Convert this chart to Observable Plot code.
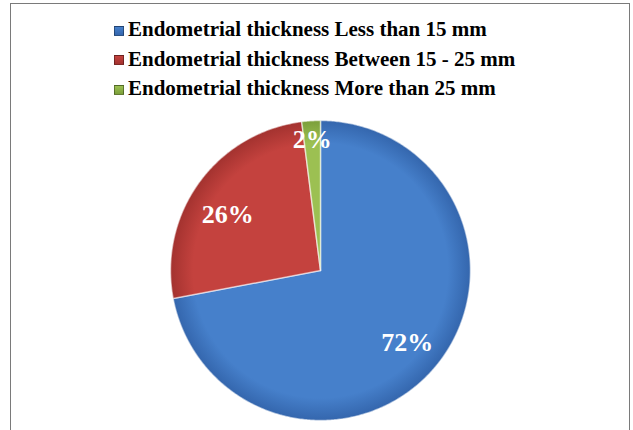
<!DOCTYPE html>
<html>
<head>
<meta charset="utf-8">
<script src="https://cdn.jsdelivr.net/npm/d3@7"></script>
<script src="https://cdn.jsdelivr.net/npm/@observablehq/plot@0.6"></script>
<style>
  html, body { margin: 0; padding: 0; background: #fff; overflow: hidden; }
  #frame { position: absolute; left: 10px; top: 3px; width: 620px; height: 460px; border: 1.5px solid #7a7a7a; box-sizing: border-box; }
  #legend { position: absolute; left: 114px; top: 15px; font-family: "Liberation Serif", "Times New Roman", serif; font-weight: bold; font-size: 21px; color: #000; }
  .row { height: 29.5px; display: flex; align-items: center; white-space: nowrap; }
  .sw { width: 10px; height: 10px; margin-right: 4px; margin-top: 2px; border: 0.5px solid rgba(0,0,0,0.35); box-sizing: border-box; }
  #chart { position: absolute; left: 0; top: 110px; }
</style>
</head>
<body>
<div id="frame"></div>
<div id="legend"></div>
<div id="chart"></div>
<script>
const categories = [
  "Endometrial thickness Less than 15 mm",
  "Endometrial thickness Between 15 - 25 mm",
  "Endometrial thickness More than 25 mm"
];
const values = [72, 26, 2];
const labels = ["72%", "26%", "2%"];
const colors = ["#4680cb", "#c4423e", "#9cc052"];
const darker = ["#3466ad", "#a3322f", "#7b9f3a"];

// legend
const legend = document.getElementById("legend");
categories.forEach((c, i) => {
  const row = document.createElement("div");
  row.className = "row";
  const sw = document.createElement("span");
  sw.className = "sw";
  sw.style.background = `linear-gradient(180deg, ${colors[i]}, ${darker[i]})`;
  row.appendChild(sw);
  row.appendChild(document.createTextNode(c));
  legend.appendChild(row);
});

// pie geometry via d3.pie (clockwise from 12 o'clock)
const pie = d3.pie().sort(null).value(d => d)(values);
const slices = pie.map((p, i) => {
  const pts = [{x: 0, y: 0, i}];
  const n = Math.max(4, Math.ceil((p.endAngle - p.startAngle) / 0.01));
  for (let k = 0; k <= n; k++) {
    const a = p.startAngle + (p.endAngle - p.startAngle) * k / n;
    pts.push({x: Math.sin(a), y: Math.cos(a), i});
  }
  pts.push({x: 0, y: 0, i});
  return pts;
});
const labelData = pie.map((p, i) => {
  const a = (p.startAngle + p.endAngle) / 2 - (values[i] > 20 && values[i] < 50 ? 0.09 : 0);
  const r = values[i] < 5 ? 0.875 : (values[i] > 50 ? 0.75 : 0.72);
  return {x: r * Math.sin(a), y: r * Math.cos(a), label: labels[i]};
});

const marks = slices.map((pts, i) =>
  Plot.line(pts, {x: "x", y: "y", fill: `url(#grad${i})`, stroke: "rgba(255,255,255,0.55)", strokeWidth: 1.5, curve: "linear-closed"})
);
marks.push(Plot.text(labelData, {
  x: "x", y: "y", text: "label", fill: "white", fontSize: 26, fontWeight: "bold",
  fontFamily: "'Liberation Serif', 'Times New Roman', serif"
}));

const plot = Plot.plot({
  width: 633,
  height: 320,
  margin: 0,
  x: {domain: [-1, 1], range: [170, 470], axis: null},
  y: {domain: [-1, 1], range: [310, 10], axis: null},
  marks
});
const svg = d3.select(plot);
const defs = svg.insert("defs", ":first-child");
colors.forEach((c, i) => {
  const g = defs.append("radialGradient").attr("id", `grad${i}`)
    .attr("gradientUnits", "userSpaceOnUse").attr("cx", 320).attr("cy", 160).attr("r", 150);
  g.append("stop").attr("offset", "0%").attr("stop-color", c);
  g.append("stop").attr("offset", "85%").attr("stop-color", c);
  g.append("stop").attr("offset", "100%").attr("stop-color", darker[i]);
});
document.getElementById("chart").appendChild(plot);
</script>
</body>
</html>
